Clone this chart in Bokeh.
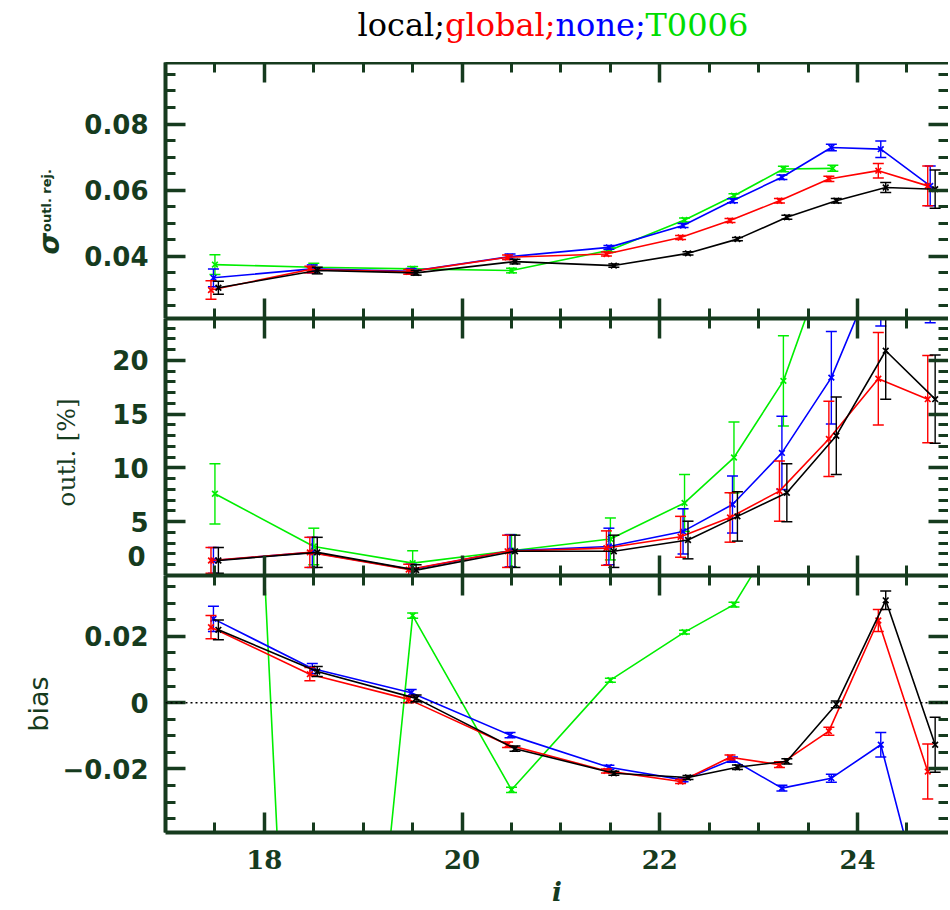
import math
import numpy as np
from bokeh.plotting import figure
from bokeh.layouts import column, row
from bokeh.models import (FixedTicker, LinearAxis, Range1d, Span, Label, ColumnDataSource,
                          CustomLabelingPolicy)
from bokeh.embed import file_html
from bokeh.resources import INLINE

nan = float("nan")

# ---------------- data ----------------
mag_bins = [17.5, 18.5, 19.5, 20.5, 21.5, 22.25, 22.75, 23.25, 23.75, 24.25, 24.75]
methods = ["T0006", "none", "global", "local"]
colors = {"local": "#000000", "global": "#ff0000", "none": "#0000ff", "T0006": "#00ee00"}
x_shift = {"local": 0.035, "global": -0.04, "none": -0.015, "T0006": 0.0}

sigma_local = [0.0305, 0.0357, 0.0350, 0.0384, 0.0372, 0.0409, 0.0452, 0.0518, 0.0568, 0.0608, 0.0603]
sigma_global = [0.0298, 0.0360, 0.0353, 0.0397, 0.0407, 0.0457, 0.0508, 0.0568, 0.0634, 0.0659, 0.0613]
sigma_none = [0.0335, 0.0362, 0.0355, 0.0399, 0.0427, 0.0493, 0.0568, 0.0639, 0.0729, 0.0724, 0.0613]
sigma_t0006 = [0.0375, 0.0367, 0.0362, 0.0357, 0.0419, 0.0510, 0.0583, 0.0664, 0.0666, nan, nan]
err_sigma_local = [0.0020, 0.0010, 0.0007, 0.0007, 0.0005, 0.0005, 0.0005, 0.0006, 0.0007, 0.0015, 0.0058]
err_sigma_global = [0.0028, 0.0010, 0.0007, 0.0007, 0.0006, 0.0006, 0.0006, 0.0007, 0.0008, 0.0022, 0.0060]
err_sigma_none = [0.0027, 0.0012, 0.0008, 0.0008, 0.0006, 0.0006, 0.0006, 0.0007, 0.0010, 0.0025, 0.0060]
err_sigma_t0006 = [0.0030, 0.0012, 0.0007, 0.0007, 0.0006, 0.0006, 0.0006, 0.0008, 0.0009, nan, nan]

outl_local = [1.4, 2.15, 0.5, 2.25, 2.25, 3.3, 5.5, 7.7, 13.0, 20.9, 16.4]
outl_global = [1.4, 2.15, 0.55, 2.25, 2.55, 3.6, 5.4, 7.85, 12.7, 18.3, 16.4]
outl_none = [1.4, 2.15, 0.55, 2.3, 2.7, 4.1, 6.6, 11.4, 18.4, 29.4, 30.0]
outl_t0006 = [7.6, 2.7, 1.15, 2.3, 3.4, 6.75, 10.97, 18.1, 31.0, nan, nan]
err_outl_local = [1.2, 1.4, 0.5, 1.5, 1.5, 1.75, 2.3, 2.7, 3.6, 4.5, 4.1]
err_outl_global = [1.2, 1.4, 0.5, 1.5, 1.6, 1.9, 2.3, 2.8, 3.5, 4.3, 4.05]
err_outl_none = [1.2, 1.4, 0.5, 1.5, 1.7, 2.1, 2.65, 3.4, 4.3, 6.2, 6.5]
err_outl_t0006 = [2.8, 1.7, 1.15, 1.5, 1.95, 2.65, 3.3, 4.2, 5.5, nan, nan]

bias_local = [0.0220, 0.0094, 0.0013, -0.0139, -0.0213, -0.0226, -0.0195, -0.0177, -0.0005, 0.0309, -0.0127]
bias_global = [0.0228, 0.0086, 0.0010, -0.0127, -0.0206, -0.0238, -0.0165, -0.0187, -0.0086, 0.0248, -0.0208]
bias_none = [0.0253, 0.0103, 0.0030, -0.0098, -0.0195, -0.0233, -0.0172, -0.0258, -0.0228, -0.0127, -0.0700]
bias_t0006 = [0.35, -0.27, 0.0263, -0.0263, 0.0068, 0.0213, 0.0296, 0.054, 0.07, nan, nan]
err_bias_local = [0.0030, 0.0015, 0.0010, 0.0008, 0.0006, 0.0006, 0.0007, 0.0008, 0.0010, 0.0028, 0.0083]
err_bias_global = [0.0035, 0.0020, 0.0010, 0.0008, 0.0006, 0.0006, 0.0007, 0.0009, 0.0012, 0.0033, 0.0083]
err_bias_none = [0.0038, 0.0015, 0.0010, 0.0008, 0.0006, 0.0006, 0.0008, 0.0009, 0.0012, 0.0037, 0.0100]
err_bias_t0006 = [0.0100, 0.0100, 0.0008, 0.0008, 0.0006, 0.0006, 0.0007, 0.0010, 0.0010, nan, nan]

x_major = [18, 20, 22, 24]
sigma_major = [0.04, 0.06, 0.08]
outl_major = [5, 10, 15, 20]
outl_zero = [0]
bias_major = [-0.02, 0, 0.02]
bias_labels = {-0.02: "\u22120.02", 0: "0", 0.02: "0.02"}

# ---------------- style ----------------
AX = "#163b1e"
FW = 783
FRAME_LEFT = 165
x_range = Range1d(17.0, 24.92)
HIDE = CustomLabelingPolicy(code="for (const i of indices) indices.unset(i)")


def minor_list(a, b, step):
    n = int(round((b - a) / step))
    return [round(a + i * step, 6) for i in range(n + 1)]


def style_axis(ax, ticker, labels=False, line=True):
    ax.ticker = ticker
    ax.axis_line_color = AX if line else None
    ax.axis_line_width = 4
    ax.major_tick_line_color = AX
    ax.major_tick_line_width = 3.5
    ax.major_tick_in = 20
    ax.major_tick_out = 0
    ax.minor_tick_line_color = AX
    ax.minor_tick_line_width = 3
    ax.minor_tick_in = 10
    ax.minor_tick_out = 0
    if not labels:
        ax.major_label_text_font_size = "0px"
        ax.major_label_standoff = 0
        ax.major_label_policy = HIDE
    else:
        ax.major_label_text_color = AX
        ax.major_label_text_font_style = "bold"


def blank_fig(w, h):
    f = figure(width=w, height=h, x_range=Range1d(0, w), y_range=Range1d(0, h),
               min_border=0, x_axis_location=None, y_axis_location=None,
               output_backend="svg", toolbar_location=None)
    f.outline_line_color = None
    f.grid.visible = False
    return f


def make_panel(y0, y1, ymajor, yminor_step, frame_h, left_border, bottom, xlabels=False, overrides=None):
    p = figure(x_range=x_range, y_range=Range1d(y0, y1), frame_width=FW, frame_height=frame_h,
               min_border_left=left_border, min_border_right=0, min_border_top=0, min_border_bottom=bottom,
               x_axis_location=None, y_axis_location=None,
               output_backend="svg", toolbar_location=None)
    p.outline_line_color = None
    p.grid.visible = False

    xminor = minor_list(17.0, 25.0, 0.5)
    yminor = minor_list(math.floor(y0 / yminor_step) * yminor_step, y1 + yminor_step, yminor_step)
    left = LinearAxis()
    style_axis(left, FixedTicker(ticks=ymajor, minor_ticks=yminor), labels=True)
    left.major_label_text_font = "DejaVu Sans"
    left.major_label_text_font_size = "26px"
    left.major_label_standoff = 17
    if overrides:
        left.major_label_overrides = overrides
    p.add_layout(left, "left")

    right = LinearAxis()
    style_axis(right, FixedTicker(ticks=ymajor, minor_ticks=yminor), labels=False, line=False)
    p.add_layout(right, "right")

    above = LinearAxis()
    style_axis(above, FixedTicker(ticks=x_major, minor_ticks=xminor), labels=False)
    p.add_layout(above, "above")

    below = LinearAxis()
    style_axis(below, FixedTicker(ticks=x_major, minor_ticks=xminor), labels=xlabels)
    if xlabels:
        below.major_label_text_font = "DejaVu Serif"
        below.major_label_text_font_size = "26px"
        below.major_label_standoff = 17
        below.axis_label = "i"
        below.axis_label_text_font = "DejaVu Serif"
        below.axis_label_text_font_style = "bold italic"
        below.axis_label_text_font_size = "26px"
        below.axis_label_text_color = AX
        below.axis_label_standoff = 5
    p.add_layout(below, "below")
    return p, left


def draw(p, vals, errs):
    for m in methods:
        c = colors[m]
        ys = np.array(vals[m], dtype=float)
        es = np.array(errs[m], dtype=float)
        xs = np.array(mag_bins, dtype=float) + x_shift[m]
        src = ColumnDataSource(dict(x=xs, y=ys, lo=ys - es, hi=ys + es))
        p.line("x", "y", source=src, line_color=c, line_width=1.6)
        p.segment("x", "lo", "x", "hi", source=src, line_color=c, line_width=1.4)
        p.scatter("x", "lo", source=src, marker="dash", size=11, line_color=c, line_width=1.5)
        p.scatter("x", "hi", source=src, marker="dash", size=11, line_color=c, line_width=1.5)
        p.scatter("x", "y", source=src, marker="x", size=8, line_color=c, line_width=1.7)


# ---------------- panels ----------------
LAB1, LAB2 = 76, 95
H1, H2, H3 = 256, 257, 257

p1, _ = make_panel(0.0212, 0.0986, sigma_major, 0.005, H1, FRAME_LEFT - LAB1, 0)
draw(p1, {"local": sigma_local, "global": sigma_global, "none": sigma_none, "T0006": sigma_t0006},
     {"local": err_sigma_local, "global": err_sigma_global, "none": err_sigma_none, "T0006": err_sigma_t0006})

p2, _ = make_panel(0.0, 23.9, outl_major, 1.0, H2, FRAME_LEFT - LAB2, 0)
zero_axis = LinearAxis(ticker=FixedTicker(ticks=outl_zero, minor_ticks=[]))
zero_axis.axis_line_color = None
zero_axis.major_tick_in = 0
zero_axis.major_tick_out = 0
zero_axis.major_label_text_color = AX
zero_axis.major_label_text_font = "DejaVu Sans"
zero_axis.major_label_text_font_style = "bold"
zero_axis.major_label_text_font_size = "26px"
zero_axis.major_label_text_baseline = "alphabetic"
zero_axis.major_label_standoff = -36
p2.add_layout(zero_axis, "left")
draw(p2, {"local": outl_local, "global": outl_global, "none": outl_none, "T0006": outl_t0006},
     {"local": err_outl_local, "global": err_outl_global, "none": err_outl_none, "T0006": err_outl_t0006})

p3, left3 = make_panel(-0.0392, 0.0384, bias_major, 0.005, H3, FRAME_LEFT, 74, xlabels=True,
                       overrides=bias_labels)
left3.axis_label = "bias"
left3.axis_label_text_font = "DejaVu Sans"
left3.axis_label_text_font_style = "normal"
left3.axis_label_text_font_size = "27px"
left3.axis_label_text_color = AX
left3.axis_label_standoff = 6
p3.add_layout(Span(location=0, dimension="width", line_color="black", line_dash="2 3", line_width=1.5))
draw(p3, {"local": bias_local, "global": bias_global, "none": bias_none, "T0006": bias_t0006},
     {"local": err_bias_local, "global": err_bias_global, "none": err_bias_none, "T0006": err_bias_t0006})

# ---------------- title (frame of this strip is aligned with the panels, starting at x=165) ----------------
title_fig = blank_fig(FRAME_LEFT + FW, 62)
title_parts = [("local;", "#000000", 0.0), ("global;", "#ff0000", 87.5),
               ("none;", "#0000ff", 198.0), ("T0006", "#00dd00", 288.0)]
for txt, col, dx in title_parts:
    title_fig.add_layout(Label(x=192 + dx, y=38, x_units="screen", y_units="screen", text=txt,
                               text_color=col, text_font="DejaVu Serif", text_font_size="32px",
                               text_align="left", text_baseline="alphabetic"))

# ---------------- y-axis titles ----------------
lab1 = blank_fig(LAB1, H1)
lab1.add_layout(Label(x=49, y=75, x_units="screen", y_units="screen", text="\u03c3",
                      angle=math.pi / 2, text_color=AX, text_font="DejaVu Sans",
                      text_font_style="bold italic", text_font_size="28px",
                      text_align="center", text_baseline="middle"))
lab1.add_layout(Label(x=46, y=118, x_units="screen", y_units="screen", text="outl. rej.",
                      angle=math.pi / 2, text_color=AX, text_font="DejaVu Sans",
                      text_font_style="bold", text_font_size="13px",
                      text_align="center", text_baseline="middle"))

lab2 = blank_fig(LAB2, H2)
lab2.add_layout(Label(x=66, y=123, x_units="screen", y_units="screen", text="outl. [%]",
                      angle=math.pi / 2, text_color=AX, text_font="DejaVu Serif",
                      text_font_size="25px", text_align="center", text_baseline="middle"))

layout = column(title_fig, row(lab1, p1, spacing=0), row(lab2, p2, spacing=0), p3, spacing=0)
open("out.html", "w").write(file_html(layout, INLINE))
